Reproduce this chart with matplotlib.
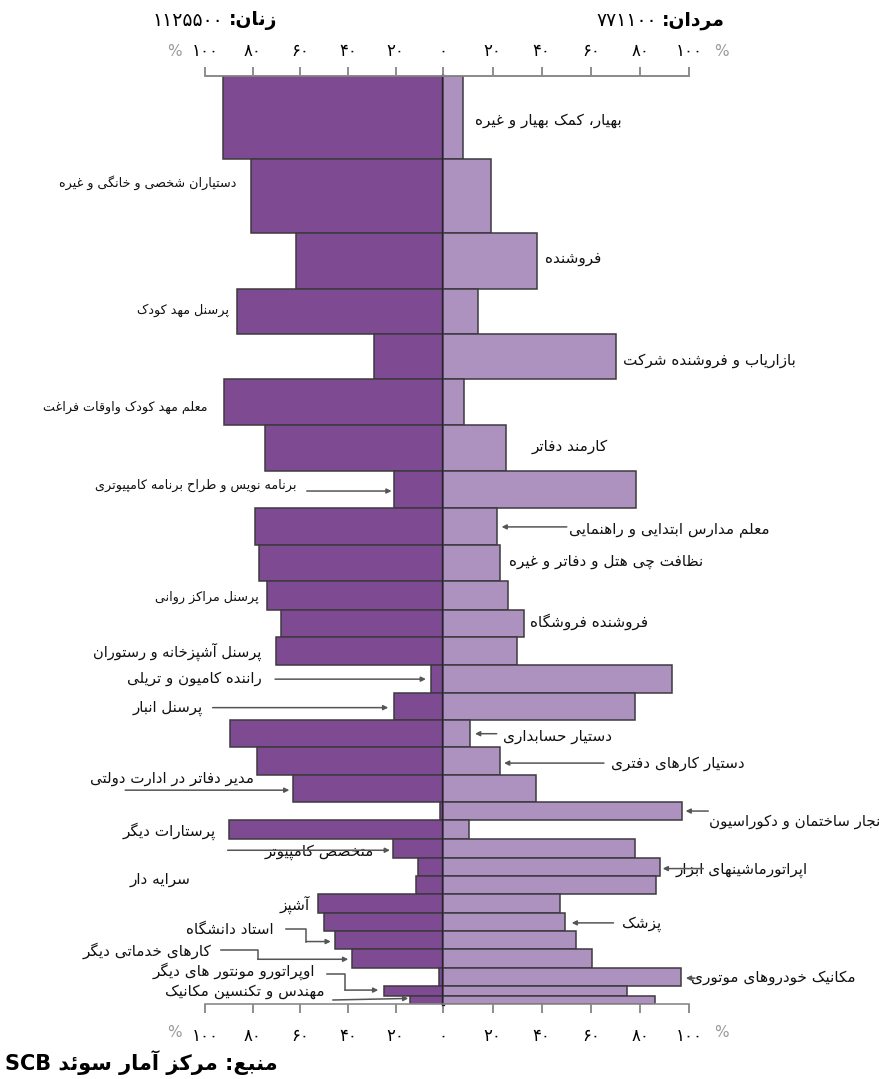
import re
import numpy as np
import matplotlib.pyplot as plt
from matplotlib.transforms import blended_transform_factory

plt.rcParams['font.family'] = ['DejaVu Sans']

# ۳۰ شغل بزرگ سوئد: سهم زنان و مردان (درصد) و تعداد شاغلان (هزار نفر، ارتفاع ردیف)
occupations = [
    'بهیار، کمک بهیار و غیره', 'دستیاران شخصی و خانگی و غیره', 'فروشنده',
    'پرسنل مهد کودک', 'بازاریاب و فروشنده شرکت', 'معلم مهد کودک واوقات فراغت',
    'کارمند دفاتر', 'برنامه نویس و طراح برنامه کامپیوتری', 'معلم مدارس ابتدایی و راهنمایی',
    'نظافت چی هتل و دفاتر و غیره', 'پرسنل مراکز روانی', 'فروشنده فروشگاه',
    'پرسنل آشپزخانه و رستوران', 'راننده کامیون و تریلی', 'پرسنل انبار',
    'دستیار حسابداری', 'دستیار کارهای دفتری', 'مدیر دفاتر در ادارت دولتی',
    'نجار ساختمان و دکوراسیون', 'پرستارات دیگر', 'متخصص کامپیوتر',
    'اپراتورماشینهای ابزار', 'سرایه دار', 'آشپز', 'پزشک', 'استاد دانشگاه',
    'کارهای خدماتی دیگر', 'مکانیک خودروهای موتوری', 'اوپراتورو مونتور های دیگر',
    'مهندس و تکنسین مکانیک',
]
women_pct = [92.5, 80.5, 62, 86.5, 29, 92, 75, 20.5, 79, 77.5, 74, 68, 70, 5, 20.5,
             89.5, 78, 63, 1.5, 90, 21, 10.5, 11.5, 52.5, 50, 45.5, 38.5, 2, 25, 14]
men_pct = [8, 19.5, 38, 14, 70, 8.5, 25.5, 78.5, 22, 23, 26.5, 33, 30, 93, 78,
           11, 23, 37.5, 97, 10.5, 78, 88, 86.5, 47.5, 49.5, 54, 60.5, 96.5, 74.5, 86]
employed_k = [170, 150, 114, 92, 92, 95, 94, 75, 76, 74, 58, 55, 57, 57, 56,
              55, 57, 55, 38, 39, 38, 37, 37, 38, 37, 37, 39, 36, 20, 17]
women_total = 1125500
men_total = 771100
ticks = [0, 20, 40, 60, 80, 100]

# چیدمان برچسب‌ها: سمت، x (درصد)، جای عمودی در ردیف، اندازه قلم، نقاط فلش
S, M, L = 9.2, 11, 10.8
label_layout = [
    ('R', 12.9, 0.54, M, None),
    ('L', 87.0, 0.32, S, None),
    ('R', 41.3, 0.47, M, None),
    ('L', 90.0, 0.48, S, None),
    ('R', 72.9, 0.59, M, None),
    ('L', 99.0, 0.61, S, None),
    ('R', 35.9, 0.46, M, None),
    ('L', 61.5, 0.38, S, [(57.3, 0.54), (21.7, 0.54)]),
    ('R', 51.2, 0.57, M, [(50.2, 0.51), (23.7, 0.51)]),
    ('R', 26.8, 0.44, M, None),
    ('L', 77.6, 0.57, S, None),
    ('R', 35.2, 0.44, M, None),
    ('L', 76.2, 0.54, 10.5, None),
    ('L', 76.2, 0.50, L, [(70.6, 0.52), (7.3, 0.52)]),
    ('L', 101.0, 0.56, L, [(96.8, 0.55), (23.1, 0.55)]),
    ('R', 24.4, 0.63, M, [(21.7, 0.51), (12.9, 0.51)]),
    ('R', 68.0, 0.61, M, [(65.3, 0.58), (24.7, 0.58)]),
    ('L', 79.4, 0.15, L, [(133.5, 0.57), (64.6, 0.57)]),
    ('R', 108.0, 1.04, L, [(107.7, 0.5), (98.5, 0.5)]),
    ('L', 95.4, 0.56, M, None),
    ('L', 29.1, 0.69, M, [(90.5, 0.58), (22.4, 0.58)]),
    ('R', 94.6, 0.67, M, [(105.7, 0.58), (89.2, 0.58)]),
    ('L', 106.0, 0.16, M, None),
    ('L', 56.2, 0.58, M, None),
    ('R', 72.5, 0.62, M, [(69.2, 0.55), (52.2, 0.55)]),
    ('L', 71.3, -0.11, M, [(66.0, -0.09), (57.6, -0.09), (57.6, 0.58), (47.2, 0.58)]),
    ('L', 97.1, 0.09, M, [(93.4, 0.04), (77.9, 0.04), (77.9, 0.53), (39.9, 0.53)]),
    ('R', 100.6, 0.55, M, [(102.3, 0.56), (98.6, 0.56)]),
    ('L', 53.8, -1.5, M, [(48.9, -1.17), (41.3, -1.17), (41.3, 0.43), (27.3, 0.43)]),
    ('L', 49.6, -0.48, M, [(46.4, 0.52), (14.7, 0.33)]),
]

# شکل‌دهی ساده حروف فارسی (matplotlib خودش حروف را به هم وصل نمی‌کند)
SHAPES = {
    'آ': (0xFE81, 2), 'ئ': (0xFE89, 4), 'ا': (0xFE8D, 2), 'ب': (0xFE8F, 4),
    'ت': (0xFE95, 4), 'ث': (0xFE99, 4), 'ج': (0xFE9D, 4), 'ح': (0xFEA1, 4),
    'خ': (0xFEA5, 4), 'د': (0xFEA9, 2), 'ذ': (0xFEAB, 2), 'ر': (0xFEAD, 2),
    'ز': (0xFEAF, 2), 'س': (0xFEB1, 4), 'ش': (0xFEB5, 4), 'ص': (0xFEB9, 4),
    'ض': (0xFEBD, 4), 'ط': (0xFEC1, 4), 'ظ': (0xFEC5, 4), 'ع': (0xFEC9, 4),
    'غ': (0xFECD, 4), 'ف': (0xFED1, 4), 'ق': (0xFED5, 4), 'ل': (0xFEDD, 4),
    'م': (0xFEE1, 4), 'ن': (0xFEE5, 4), 'ه': (0xFEE9, 4), 'و': (0xFEED, 2),
    'پ': (0xFB56, 4), 'چ': (0xFB7A, 4), 'ژ': (0xFB8A, 2), 'ک': (0xFB8E, 4),
    'گ': (0xFB92, 4), 'ی': (0xFBFC, 4), 'ي': (0xFEF1, 4), 'ك': (0xFED9, 4),
}
FA_DIGITS = str.maketrans('0123456789', '۰۱۲۳۴۵۶۷۸۹')


def fa(s):
    out = []
    i = 0
    while i < len(s):
        c = s[i]
        if c not in SHAPES:
            out.append(c); i += 1; continue
        prev = s[i-1] if i > 0 else ''
        nxt = s[i+1] if i + 1 < len(s) else ''
        jp = prev in SHAPES and SHAPES[prev][1] == 4
        if c == 'ل' and nxt in ('ا', 'آ'):
            base = 0xFEFB if nxt == 'ا' else 0xFEF5
            out.append(chr(base + (1 if jp else 0))); i += 2; continue
        base, k = SHAPES[c]
        jn = k == 4 and nxt in SHAPES
        f = 3 if (jp and jn) else 1 if jp else 2 if jn else 0
        out.append(chr(base + f)); i += 1
    vis = ''.join(out)[::-1]
    return re.sub(r'[A-Za-z0-9\u06F0-\u06F9]+', lambda m: m.group(0)[::-1], vis)


heights = np.array(employed_k, dtype=float)
tops = np.cumsum(heights) - heights
total = heights.sum()

clrW = np.array([126, 74, 146])/255
clrM = np.array([173, 146, 191])/255
edge = '#3e3a40'
tick_kw = dict(direction='out', length=6.5, width=1.2, color='#7a7a7a', labelsize=12)

W, H = 889, 1079
x0, xc, x1 = 205, 443.3, 689.3
ytop, ybot = 76, 1004
fig = plt.figure(figsize=(W/100, H/100), dpi=100)
axL = fig.add_axes([x0/W, 1-ybot/H, (xc-x0)/W, (ybot-ytop)/H])
axR = fig.add_axes([xc/W, 1-ybot/H, (x1-xc)/W, (ybot-ytop)/H])

axL.barh(tops, women_pct, height=heights, align='edge', color=clrW, edgecolor=edge, linewidth=1.1)
axR.barh(tops, men_pct, height=heights, align='edge', color=clrM, edgecolor=edge, linewidth=1.1)
axL.axvline(0, color='#2a1f30', lw=2.4, clip_on=False, zorder=5)

axL.set_xlim(100, 0)
axR.set_xlim(0, 100)
for ax, tk in ((axL, ticks), (axR, ticks[1:])):
    labels = [str(v).translate(FA_DIGITS) for v in tk]
    ax.set_ylim(total, 0)
    ax.set_yticks([])
    ax.set_xticks(tk)
    ax.set_xticklabels(labels)
    ax.tick_params(axis='x', pad=10, **tick_kw)
    sec = ax.secondary_xaxis('top')
    sec.set_xticks(tk)
    sec.set_xticklabels(labels)
    sec.tick_params(axis='x', pad=5, **tick_kw)
    sec.spines['top'].set_color('#8a8a8a')
    sec.spines['top'].set_linewidth(1.2)
    for sp in ('left', 'right'):
        ax.spines[sp].set_visible(False)
    for sp in ('top', 'bottom'):
        ax.spines[sp].set_color('#8a8a8a')
        ax.spines[sp].set_linewidth(1.2)
    ax.patch.set_visible(False)

# علامت درصد
for ax in (axL, axR):
    tr = blended_transform_factory(ax.transData, ax.transAxes)
    for yy in (1.026, -0.031):
        ax.text(113, yy, '%', transform=tr, ha='center', va='center', fontsize=11, color='#9a9a9a')

# برچسب شغل‌ها و فلش‌ها
for i, (side, xp, fr, fs, arrow) in enumerate(label_layout):
    ax = axL if side == 'L' else axR
    ha = 'right' if side == 'L' else 'left'
    yv = tops[i] + fr*heights[i]
    ax.text(xp, yv, fa(occupations[i]), ha=ha, va='center', fontsize=fs, color='#111111',
            clip_on=False, zorder=6)
    if arrow:
        px = [p[0] for p in arrow]
        py = [tops[i] + p[1]*heights[i] for p in arrow]
        if len(arrow) > 2:
            ax.plot(px[:-1], py[:-1], color='#555555', lw=1.1, clip_on=False, zorder=6)
        ax.annotate('', xy=(px[-1], py[-1]), xytext=(px[-2], py[-2]),
                    arrowprops=dict(arrowstyle='-|>', color='#555555', lw=1.1,
                                    mutation_scale=7, shrinkA=0, shrinkB=0),
                    annotation_clip=False, zorder=6)

# عنوان‌ها
tL = axL.text(69.8, 1.060, fa('زنان:'), transform=axL.get_xaxis_transform(),
              ha='right', va='center', fontsize=13.5, fontweight='bold')
axL.annotate(str(women_total).translate(FA_DIGITS), xy=(0, 0.5), xycoords=tL,
             xytext=(-4, 0), textcoords='offset points', ha='right', va='center', fontsize=13.5)
tR = axR.text(114.5, 1.060, fa('مردان:'), transform=axR.get_xaxis_transform(),
              ha='right', va='center', fontsize=13.5, fontweight='bold')
axR.annotate(str(men_total).translate(FA_DIGITS), xy=(0, 0.5), xycoords=tR,
             xytext=(-4, 0), textcoords='offset points', ha='right', va='center', fontsize=13.5)

fig.text(5/W, 1-1063/H, fa('منبع: مرکز آمار سوئد SCB'), ha='left', va='center',
         fontsize=15, fontweight='bold')

fig.savefig('out.png', dpi=100)
